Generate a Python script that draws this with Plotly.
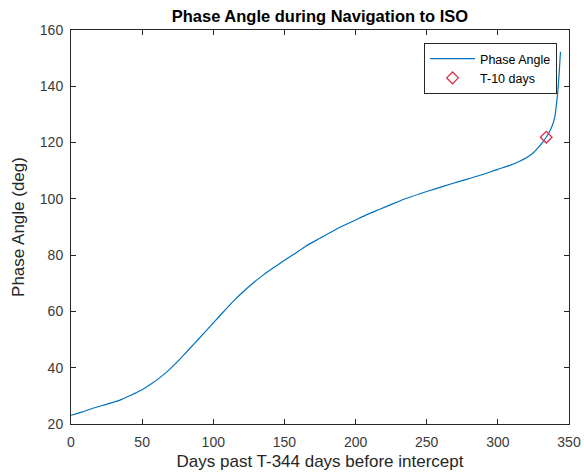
import plotly.graph_objects as go

# Data
days = [0, 8, 16, 25, 34, 42, 50, 56, 62, 68, 74, 80, 86, 93, 100, 107, 114, 121, 128,
        135, 142, 149, 156, 165, 175, 187, 200, 208, 217, 226, 236, 250, 262, 273,
        287, 300, 308, 315, 320, 325, 328, 331, 334, 336, 338, 340, 341, 342, 342.5, 343, 343.5, 344]
phase_deg = [23.1, 24.3, 25.7, 27.0, 28.4, 30.2, 32.2, 34.1, 36.3, 38.8, 41.7, 44.9, 48.2, 52.0,
             55.9, 59.8, 63.6, 67.0, 70.1, 72.9, 75.4, 77.8, 80.1, 83.2, 86.0, 89.4, 92.5, 94.4,
             96.3, 98.2, 100.2, 102.6, 104.5, 106.2, 108.3, 110.5, 111.8, 113.3, 114.6, 116.4,
             118.0, 119.8, 121.9, 123.6, 125.7, 129.0, 132.8, 137.5, 140.5, 144.0, 148.0, 152.3]

marker_day = [334]
marker_deg = [121.9]

title_text = "Phase Angle during Navigation to ISO"
x_title = "Days past T-344 days before intercept"
y_title = "Phase Angle (deg)"
x_ticks = [0, 50, 100, 150, 200, 250, 300, 350]
y_ticks = [20, 40, 60, 80, 100, 120, 140, 160]

axis_color = "#262626"
font_family = "Liberation Sans, Arial, sans-serif"

fig = go.Figure()
fig.add_trace(go.Scatter(
    x=days, y=phase_deg, mode="lines", name="Phase Angle",
    line=dict(color="#0072BD", width=1.2, shape="spline", smoothing=0.6),
))
fig.add_trace(go.Scatter(
    x=marker_day, y=marker_deg, mode="markers", name="T-10 days",
    marker=dict(symbol="diamond-open", color="#d9304a", size=9, line=dict(width=1.3)),
))

axis_common = dict(
    showline=True, linecolor=axis_color, linewidth=1, mirror="ticks",
    ticks="inside", ticklen=5, tickcolor=axis_color, tickwidth=1,
    showgrid=False, zeroline=False, automargin=False,
    tickfont=dict(family=font_family, size=14, color="#3a3a3a"),
)

fig.update_layout(
    width=584, height=475,
    margin=dict(l=71, r=15, t=30, b=51, autoexpand=False),
    paper_bgcolor="white", plot_bgcolor="white",
    font=dict(family=font_family, color=axis_color),
    title=dict(text="<b>" + title_text + "</b>", x=0.5, xref="paper", xanchor="center",
               y=1 - 16 / 475, yref="container", yanchor="middle",
               font=dict(family=font_family, size=16.5, color="black")),
    xaxis=dict(range=[0, 350], tickvals=x_ticks, ticktext=[str(v) for v in x_ticks],
               ticklabelstandoff=5,
               title=dict(text=x_title, font=dict(family=font_family, size=17, color=axis_color),
                          standoff=6),
               **axis_common),
    yaxis=dict(range=[20, 160], tickvals=y_ticks, ticktext=[str(v) for v in y_ticks],
               ticklabelstandoff=4,
               title=dict(text=y_title, font=dict(family=font_family, size=17, color=axis_color),
                          standoff=10),
               **axis_common),
    legend=dict(x=0.976, y=0.967, xanchor="right", yanchor="top",
                bgcolor="white", bordercolor=axis_color, borderwidth=1,
                font=dict(family=font_family, size=12.5, color="black"),
                tracegroupgap=0, itemwidth=45),
    showlegend=True,
)

fig.write_html("out.html", config={"displayModeBar": False},
               post_script="document.body.style.margin='0px';")
